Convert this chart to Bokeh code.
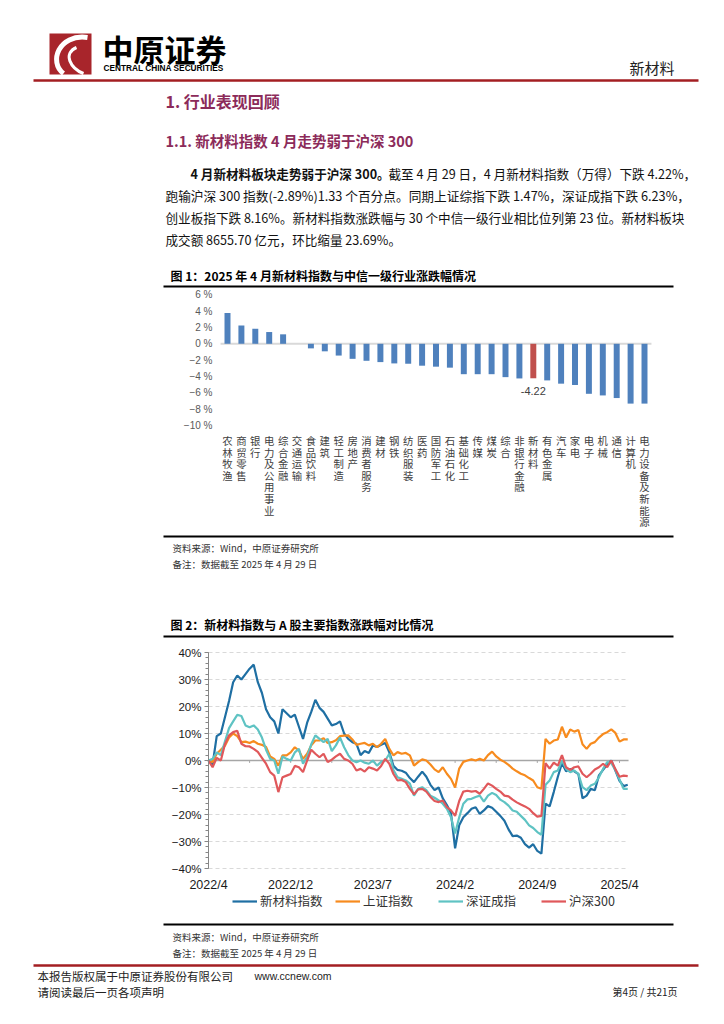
from bokeh.plotting import figure
from bokeh.models import (Range1d, FixedTicker, Legend, LegendItem, ColumnDataSource,
                          LinearAxis)
from bokeh.embed import file_html
from bokeh.resources import INLINE
from bokeh.core.properties import value

CJK = "Noto Sans CJK SC"
LAT = "Liberation Sans"

# ---------------- Chart 1 data ----------------
industries = ["农林牧渔", "商贸零售", "银行", "电力及公用事业", "综合金融", "交通运输",
              "食品饮料", "建筑", "轻工制造", "房地产", "消费者服务", "建材", "钢铁",
              "纺织服装", "医药", "国防军工", "石油石化", "基础化工", "传媒", "煤炭",
              "综合", "非银行金融", "新材料", "有色金属", "汽车", "家电", "电子",
              "机械", "通信", "计算机", "电力设备及新能源"]
pct_change = [3.76, 2.24, 1.84, 1.44, 1.16, 0.0, -0.56, -0.92, -1.44, -1.84,
              -2.08, -2.24, -2.40, -2.44, -2.68, -2.80, -2.92, -3.72, -3.72, -3.72,
              -4.08, -4.24, -4.22, -4.48, -4.88, -5.04, -6.12, -6.32, -6.64, -7.32,
              -7.32]
highlight = "新材料"
bar_ticks = [6, 4, 2, 0, -2, -4, -6, -8, -10]
bar_tick_labels = ["6 %", "4 %", "2 %", "0 %", "\u22122 %", "\u22124 %", "\u22126 %",
                   "\u22128 %", "\u221210 %"]

# ---------------- Chart 2 data ----------------
week_index = list(range(103))
xin_cai_liao = [0, -1.5, 9, 10, 16, 22, 29, 31.5, 30, 32,
                34, 35.5, 29, 25, 19, 16, 14.5, 10, 19, 17.5,
                16, 17, 12.5, 8, 14, 18, 22.5, 19.5, 18, 15.5,
                13, 13.5, 14.5, 10, 8, 6.8, 6.2, 2, 3.5, 2.8,
                5.6, 5, 5.8, 6.5, 3, -2, -3.5, -3.8, -4.5, -6.5,
                -8, -6, -4.1, -6, -9, -11, -10, -14, -16.5, -19.5,
                -32.5, -24, -21, -19.5, -17.9, -17.3, -19.8, -18.5, -16.9, -17.5,
                -19, -20.5, -22.3, -25.5, -28, -27.8, -28.6, -31, -32.3, -31,
                -33.5, -34.5, -16, -17, -11.7, -6, -1, -4, -3.1, -4,
                -5, -14, -13, -10.5, -11, -5.5, -3.5, -1.5, 0, -3.7,
                -7.5, -9.5, -9]
shang_zheng = [0, -0.6, 2.5, 4, 5.5, 8.5, 10, 9, 6.8, 7,
               6.5, 7.2, 6.2, 5.8, 5, 1.5, 0.6, -1.9, 1.9, 1.9,
               3, 4.9, 3.7, 0.6, 2.5, 5.6, 7.4, 7.4, 8.3, 6.5,
               6.8, 7.5, 9, 9.2, 9.3, 7.8, 5.8, 6.2, 6.5, 5.6,
               6.2, 4.9, 6.2, 8, 4.3, 1.9, 3.1, 2.5, 2.8, 1.9,
               -1.9, -0.6, 0.4, 0, -1.5, -3.3, -4.3, -2.5, -4.9, -6.8,
               -10, -3, -0.5, 0, 0.4, 0, 0.6, 0, 2, 3.3,
               1.5, 0.3, -0.5, -1.6, -3, -4, -4.9, -5.5, -6.5, -7.4,
               -9.9, -10.5, 8, 6.2, 7.4, 7.8, 12.5, 8.5, 11.5, 10.7,
               11.3, 6, 4.3, 6.2, 6.8, 8.5, 9.8, 10.5, 11.5, 10.2,
               7, 7.8, 7.8]
shen_zheng = [0, 0.6, 3, 2, 7, 12, 14.5, 16.9, 16.5, 13,
              12.3, 13, 11.5, 8.5, 4, 0.6, 0, -4.9, 1.5, 0.6,
              0, 3, 4.3, -1.2, 1.5, 6, 9.3, 8, 6.8, 8,
              3.5, 5.6, 8.5, 4.9, 2, 0, -0.6, 0, -0.8, -1.2,
              0, -1.9, -0.5, 0, 2.5, -3.5, -6.2, -6.8, -7.4, -8.6,
              -13, -10.5, -9.9, -11, -13, -13.8, -14.8, -16, -17.9, -21,
              -27, -21, -16, -14.4, -14.2, -13.5, -13, -15.2, -13, -12,
              -12.8, -14.5, -15.4, -16.7, -18.5, -19, -20.5, -22, -24, -25,
              -26.5, -27.5, -9, -7.4, -4.3, -3.7, 0, -3.1, -4.3, -3.7,
              -5, -9.9, -11, -9.3, -8.6, -6.2, -3.1, -0.6, -1, -3.5,
              -7, -10.5, -10.5]
hs300 = [0, -2.5, 1, 0, 6, 9.3, 10.5, 11, 6.2, 5.3,
         5.2, 4.3, 3.2, 1, -1.2, -4.3, -5.6, -11.7, -6.2, -5.6,
         -5, -2, -2.5, -4.3, 0, 4, 2.5, 1.2, 2.5, -0.6,
         0.3, 1.5, 2.5, 0.6, 0, -1.2, -3.7, -3.1, -4.1, -2.5,
         -3, -3.7, -2, 0.6, -1.2, -5, -7.4, -7.2, -8, -10.5,
         -12.5, -10.7, -10.5, -11.5, -13.5, -15, -15.4, -14.8, -17.3, -18.5,
         -20.5, -15, -11.5, -11.2, -11.5, -11.3, -12.3, -10.5, -8.5, -9.3,
         -10.5, -11.5, -13, -13.3, -14.5, -15.5, -16.3, -17, -17.9, -19.5,
         -20.8, -20.5, -1, -3, -0.8, -1.9, 2, -2.5, -3.5, -2.5,
         -2.2, -4.9, -6.2, -4.9, -3.3, -2.5, -1.2, -2.5, 0, -3.2,
         -6, -5.6, -5.8]
series_names = ["新材料指数", "上证指数", "深证成指", "沪深300"]
series_colors = ["#1f6fa3", "#f78b1e", "#5fc3c3", "#e0585b"]
line_ticks = [0, 20, 40, 60, 80, 100]
line_tick_labels = ["2022/4", "2022/12", "2023/7", "2024/2", "2024/9", "2025/4"]
y2_ticks = [40, 30, 20, 10, 0, -10, -20, -30, -40]
y2_tick_labels = ["40%", "30%", "20%", "10%", "0%", "\u221210%", "\u221220%",
                  "\u221230%", "\u221240%"]

HEAD_COLOR = "#8c2b5a"
RED = "#a31e22"
W, H = 716, 1016


def x_range_for(px0, v0, ppu):
    """Range whose value v0 sits at page pixel px0, ppu pixels per unit."""
    return Range1d(v0 - px0 / ppu, v0 + (W - px0) / ppu)


def y_range_for(py0, v0, ppu):
    return Range1d(v0 - (H - py0) / ppu, v0 + py0 / ppu)


p = figure(width=W, height=H, x_range=Range1d(0, W), y_range=Range1d(H, 0),
           toolbar_location=None, output_backend="svg", x_axis_type=None,
           y_axis_type=None, min_border=0)
p.outline_line_color = None
p.extra_x_ranges = {"c1x": x_range_for(227, 0, 13.9),
                    "c2x": x_range_for(208, 0, 4.11)}
p.extra_y_ranges = {"c1y": y_range_for(343.3, 0, 8.17),
                    "c2y": y_range_for(760, 0, 2.7)}


def txt(x, y, s, size, font=CJK, color="#111111", style="normal", align="left"):
    p.text(x=[x], y=[y - 1], text=[s], text_font=value(font), text_font_size=size,
           text_font_style=style, text_color=color, text_align=align,
           text_baseline="middle")


def rule(x0, x1, y, color="#000000", width=2):
    p.segment(x0=[x0], y0=[y], x1=[x1], y1=[y], line_color=color, line_width=width)


# ---------------- page header & text ----------------
p.quad(left=[49], right=[91], top=[33], bottom=[74], fill_color="#a8252b",
       line_color=None)
p.bezier(x0=[87], y0=[37], x1=[63], y1=[73], cx0=[58], cy0=[33], cx1=[48], cy1=[62],
         line_color="white", line_width=5)
p.bezier(x0=[76], y0=[47], x1=[83], y1=[73], cx0=[62], cy0=[53], cx1=[70], cy1=[68],
         line_color="white", line_width=3)
txt(102, 49, "中原证券", "31px", style="bold", color="#000000")
txt(103, 68, "CENTRAL CHINA SECURITIES", "8.3px", font=LAT, style="bold",
    color="#000000")
txt(674, 68, "新材料", "15px", color="#222222", align="right")
rule(33, 698, 80, color=RED, width=2.5)

txt(165, 101, "1. 行业表现回顾", "16px", style="bold", color=HEAD_COLOR)
txt(165, 141, "1.1. 新材料指数 4 月走势弱于沪深 300", "14.5px", style="bold",
    color=HEAD_COLOR)
txt(190, 174, "4 月新材料板块走势弱于沪深 300。", "12.6px", style="bold")
txt(388, 174, "截至 4 月 29 日，4 月新材料指数（万得）下跌 4.22%，", "12.6px")
txt(165, 196, "跑输沪深 300 指数(-2.89%)1.33 个百分点。同期上证综指下跌 1.47%，深证成指下跌 6.23%，", "12.7px")
txt(165, 218, "创业板指下跌 8.16%。新材料指数涨跌幅与 30 个中信一级行业相比位列第 23 位。新材料板块", "12.6px")
txt(165, 240, "成交额 8655.70 亿元，环比缩量 23.69%。", "12.6px")
txt(170, 276, "图 1：2025 年 4 月新材料指数与中信一级行业涨跌幅情况", "12px",
    style="bold", color="#000000")
rule(163, 673, 286, width=2)

# ---------------- chart 1 ----------------
idx1 = list(range(len(industries)))
C1 = dict(x_range_name="c1x", y_range_name="c1y")
p.segment(x0=[idx1[0] - 0.5], y0=[0], x1=[idx1[-1] + 0.5], y1=[0],
          line_color="#d9d9d9", line_width=2, **C1)
src1 = ColumnDataSource(dict(
    x=idx1, val=pct_change,
    color=["#c0504d" if c == highlight else "#4f81bd" for c in industries],
    vlabel=["\n".join(c) for c in industries]))
p.vbar(x="x", top="val", bottom=0, width=0.43, fill_color="color",
       line_color=None, source=src1, **C1)
p.text(x="x", y=-10.95, text="vlabel", source=src1, text_font=value(CJK),
       text_font_size="10.4px", text_color="#404040", text_align="center",
       text_baseline="top", text_line_height=0.77, **C1)
hi = industries.index(highlight)
p.text(x=[hi], y=[pct_change[hi]], text=[f"{pct_change[hi]:.2f}"], y_offset=9,
       text_font=value(LAT), text_font_size="11px", text_color="#404040",
       text_align="center", text_baseline="top", **C1)
ax1 = LinearAxis(y_range_name="c1y", fixed_location=220,
                 ticker=FixedTicker(ticks=bar_ticks))
ax1.major_label_overrides = dict(zip(bar_ticks, bar_tick_labels))
ax1.axis_line_color = None
ax1.major_tick_line_color = None
ax1.minor_tick_line_color = None
ax1.major_tick_out = 0
ax1.major_tick_in = 0
ax1.major_label_text_font = LAT
ax1.major_label_text_font_size = "10px"
ax1.major_label_text_color = "#595959"
ax1.major_label_standoff = 8
p.add_layout(ax1, "left")

rule(163, 673, 536, width=2)
txt(172, 548, "资料来源：Wind，中原证券研究所", "9.5px", color="#333333")
txt(172, 564, "备注：数据截至 2025 年 4 月 29 日", "9.5px", color="#333333")
txt(170, 625, "图 2：新材料指数与 A 股主要指数涨跌幅对比情况", "12px",
    style="bold", color="#000000")
rule(163, 673, 636, width=2)

# ---------------- chart 2 ----------------
C2 = dict(x_range_name="c2x", y_range_name="c2y")
grid_end = week_index[-1] + 0.2
grid_vals = [t for t in y2_ticks if t != 0]
p.segment(x0=[0] * len(grid_vals), y0=grid_vals, x1=[grid_end] * len(grid_vals),
          y1=grid_vals, line_color="#d9d9d9", line_width=1.2, line_dash="4 3", **C2)
p.segment(x0=[0], y0=[0], x1=[grid_end], y1=[0], line_color="#a6a6a6",
          line_width=1.5, **C2)
zero_ticks = list(range(10, 101, 10))
p.segment(x0=zero_ticks, y0=[0] * len(zero_ticks), x1=zero_ticks,
          y1=[-0.9] * len(zero_ticks), line_color="#a6a6a6", line_width=1, **C2)

renderers = []
for name, data, col in zip(series_names,
                           [xin_cai_liao, shang_zheng, shen_zheng, hs300],
                           series_colors):
    r = p.line(week_index, data, line_color=col, line_width=2.2, **C2)
    renderers.append((name, r))

ax2y = LinearAxis(y_range_name="c2y", fixed_location=208,
                  bounds=(y2_ticks[-1], y2_ticks[0]),
                  ticker=FixedTicker(ticks=y2_ticks,
                                     minor_ticks=list(range(-40, 41, 2))))
ax2y.major_label_overrides = dict(zip(y2_ticks, y2_tick_labels))
ax2y.axis_line_color = "#868686"
ax2y.major_tick_line_color = "#868686"
ax2y.minor_tick_line_color = "#868686"
ax2y.major_tick_out = 4
ax2y.major_tick_in = 0
ax2y.minor_tick_out = 3
ax2y.minor_tick_in = 0
ax2y.major_label_text_font = LAT
ax2y.major_label_text_font_size = "11.5px"
ax2y.major_label_text_color = "#1a1a1a"
ax2y.major_label_standoff = 3
p.add_layout(ax2y, "left")

ax2x = LinearAxis(x_range_name="c2x", fixed_location=868,
                  bounds=(week_index[0], grid_end),
                  ticker=FixedTicker(ticks=line_ticks))
ax2x.major_label_overrides = dict(zip(line_ticks, line_tick_labels))
ax2x.axis_line_color = None
ax2x.major_tick_line_color = None
ax2x.minor_tick_line_color = None
ax2x.major_tick_out = 0
ax2x.major_label_text_font = LAT
ax2x.major_label_text_font_size = "12.5px"
ax2x.major_label_text_color = "#1a1a1a"
ax2x.major_label_standoff = 9
p.add_layout(ax2x, "below")

legend = Legend(items=[LegendItem(label=n, renderers=[r]) for n, r in renderers],
                orientation="horizontal", location=(232, H - 910), glyph_width=25,
                glyph_height=14, label_standoff=3, spacing=5, padding=0, margin=0,
                label_width=70, label_height=14, label_text_font=CJK,
                label_text_font_size="12.5px", label_text_color="#333333",
                border_line_color=None, background_fill_alpha=0)
p.add_layout(legend)

# ---------------- bottom ----------------
rule(163, 673, 924, width=2)
txt(172, 937, "资料来源：Wind，中原证券研究所", "9.5px", color="#333333")
txt(172, 953, "备注：数据截至 2025 年 4 月 29 日", "9.5px", color="#333333")
rule(33, 698, 965, color=RED, width=2.5)
txt(37, 976, "本报告版权属于中原证券股份有限公司", "11.5px", color="#222222")
txt(254, 976, "www.ccnew.com", "10.5px", font=LAT, color="#222222")
txt(37, 992, "请阅读最后一页各项声明", "11.5px", color="#222222")
txt(677, 992, "第4页 / 共21页", "10px", color="#222222", align="right")

open("out.html", "w").write(file_html(p, INLINE))
